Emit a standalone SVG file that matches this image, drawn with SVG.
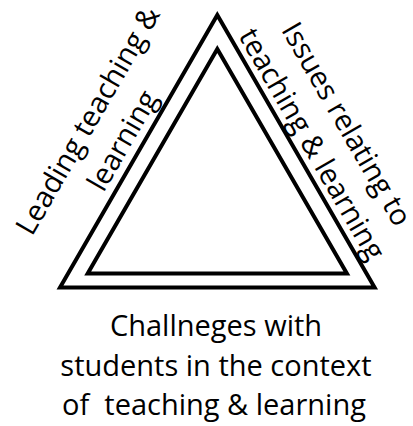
<svg xmlns="http://www.w3.org/2000/svg" width="413" height="426" viewBox="0 0 413 426">
<style>
.tri{fill:none;stroke:#000;stroke-width:4;stroke-linejoin:miter;stroke-miterlimit:10}
.lbl{font-family:"Open Sans","Liberation Sans",sans-serif;font-size:29px;fill:#000;text-anchor:middle}
</style>
<rect width="413" height="426" fill="#fff"/>
<g id="outer-triangle"><polygon class="tri" points="217.3,15 60,287.5 374.6,287.5"/></g>
<g id="inner-triangle"><polygon class="tri" points="217.3,49 87.7,273.5 346.9,273.5"/></g>
<g id="label-left" transform="translate(96.5,125.5) rotate(-60)">
<text class="lbl" x="0" y="0">Leading teaching &amp;</text>
<text class="lbl" x="0" y="40">learning</text>
</g>
<g id="label-right" transform="translate(338,129) rotate(60)">
<text class="lbl" x="0" y="0">Issues relating to</text>
<text class="lbl" x="0" y="40">teaching &amp; learning</text>
</g>
<g id="label-bottom">
<text class="lbl" x="216" y="336">Challneges with</text>
<text class="lbl" x="216" y="376">students in the context</text>
<text class="lbl" x="214" y="415" xml:space="preserve">of  teaching &amp; learning</text>
</g>
<g id="connectors"></g>
</svg>
